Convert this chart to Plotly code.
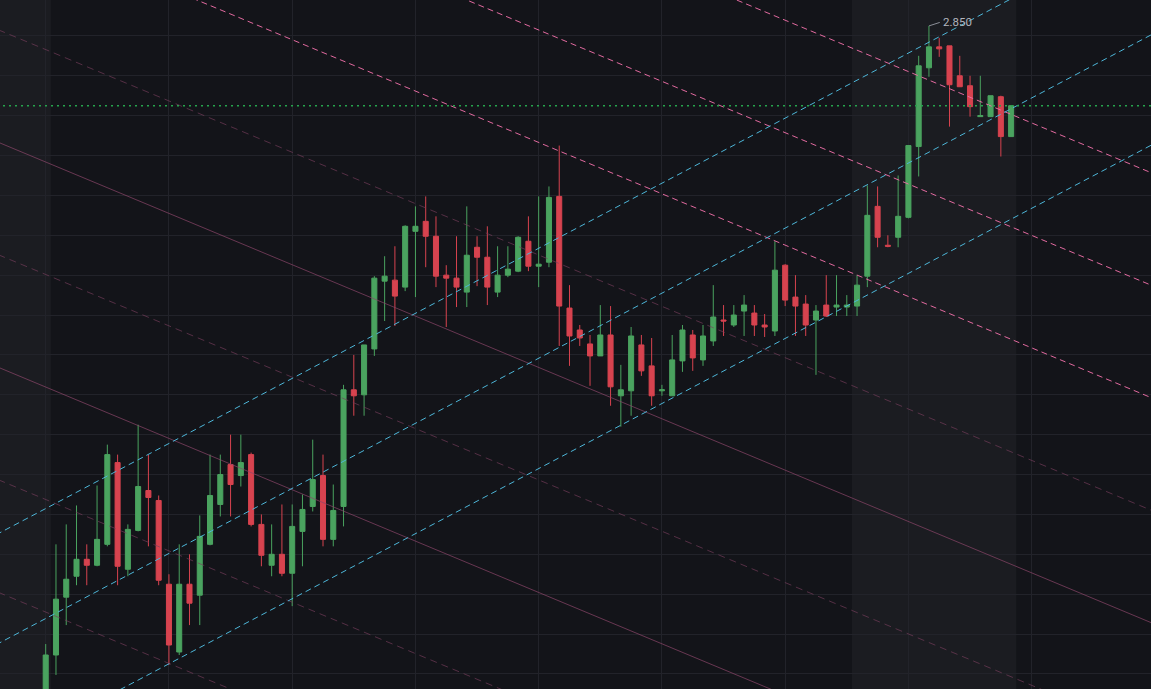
import plotly.graph_objects as go

# ---------------- data ----------------
bar_index = list(range(95))
opens = [2.179, 2.219, 2.277, 2.298, 2.315, 2.309, 2.330, 2.412, 2.305, 2.344,
         2.384, 2.374, 2.290, 2.222, 2.290, 2.279, 2.330, 2.370, 2.410, 2.399,
         2.420, 2.350, 2.309, 2.320, 2.301, 2.343, 2.368, 2.399, 2.335, 2.368,
         2.485, 2.480, 2.526, 2.594, 2.595, 2.588, 2.644, 2.654, 2.639, 2.600,
         2.597, 2.583, 2.628, 2.618, 2.583, 2.600, 2.604, 2.634, 2.609, 2.613,
         2.679, 2.567, 2.545, 2.531, 2.519, 2.540, 2.479, 2.484, 2.530, 2.509,
         2.484, 2.479, 2.514, 2.540, 2.515, 2.534, 2.555, 2.550, 2.564, 2.562,
         2.550, 2.544, 2.610, 2.578, 2.571, 2.555, 2.570, 2.568, 2.568, 2.569,
         2.599, 2.669, 2.630, 2.638, 2.658, 2.729, 2.808, 2.829, 2.830, 2.800,
         2.790, 2.759, 2.759, 2.779, 2.739]
highs = [2.230, 2.330, 2.350, 2.369, 2.330, 2.389, 2.430, 2.420, 2.350, 2.450,
         2.420, 2.379, 2.300, 2.330, 2.320, 2.359, 2.420, 2.420, 2.440, 2.440,
         2.422, 2.360, 2.350, 2.370, 2.370, 2.380, 2.435, 2.420, 2.390, 2.490,
         2.520, 2.530, 2.599, 2.619, 2.629, 2.650, 2.669, 2.679, 2.659, 2.610,
         2.639, 2.669, 2.639, 2.649, 2.629, 2.629, 2.639, 2.659, 2.679, 2.689,
         2.730, 2.590, 2.550, 2.540, 2.570, 2.569, 2.510, 2.548, 2.540, 2.537,
         2.490, 2.540, 2.550, 2.545, 2.550, 2.590, 2.570, 2.570, 2.580, 2.570,
         2.561, 2.634, 2.611, 2.600, 2.580, 2.570, 2.600, 2.600, 2.580, 2.600,
         2.690, 2.689, 2.640, 2.700, 2.730, 2.820, 2.850, 2.838, 2.830, 2.820,
         2.800, 2.800, 2.780, 2.780, 2.770]
lows = [2.164, 2.199, 2.249, 2.289, 2.289, 2.308, 2.328, 2.289, 2.298, 2.343,
        2.328, 2.289, 2.209, 2.219, 2.249, 2.249, 2.329, 2.358, 2.358, 2.388,
        2.348, 2.308, 2.298, 2.298, 2.268, 2.308, 2.363, 2.328, 2.328, 2.348,
        2.459, 2.459, 2.519, 2.554, 2.549, 2.584, 2.578, 2.608, 2.588, 2.548,
        2.568, 2.568, 2.589, 2.570, 2.578, 2.598, 2.603, 2.604, 2.588, 2.608,
        2.529, 2.509, 2.529, 2.489, 2.519, 2.469, 2.448, 2.459, 2.499, 2.469,
        2.479, 2.479, 2.503, 2.504, 2.509, 2.529, 2.539, 2.548, 2.539, 2.539,
        2.538, 2.539, 2.569, 2.539, 2.539, 2.500, 2.558, 2.559, 2.559, 2.559,
        2.588, 2.628, 2.628, 2.628, 2.657, 2.699, 2.799, 2.819, 2.749, 2.789,
        2.759, 2.759, 2.759, 2.719, 2.739]
closes = [2.219, 2.275, 2.295, 2.315, 2.309, 2.335, 2.420, 2.308, 2.345, 2.388,
          2.377, 2.294, 2.229, 2.290, 2.271, 2.338, 2.379, 2.400, 2.390, 2.412,
          2.350, 2.319, 2.320, 2.301, 2.348, 2.365, 2.395, 2.335, 2.364, 2.485,
          2.479, 2.530, 2.597, 2.599, 2.579, 2.649, 2.649, 2.639, 2.599, 2.597,
          2.588, 2.620, 2.618, 2.588, 2.600, 2.606, 2.638, 2.609, 2.611, 2.678,
          2.569, 2.539, 2.537, 2.519, 2.540, 2.488, 2.485, 2.539, 2.504, 2.479,
          2.485, 2.515, 2.545, 2.517, 2.539, 2.558, 2.554, 2.560, 2.570, 2.550,
          2.548, 2.605, 2.575, 2.569, 2.550, 2.564, 2.559, 2.570, 2.570, 2.590,
          2.660, 2.638, 2.629, 2.659, 2.730, 2.810, 2.829, 2.827, 2.791, 2.789,
          2.769, 2.760, 2.780, 2.739, 2.770]

last_price = 2.770
high_label = "2.850"
high_bar = 86
high_value = 2.850

# rising parallel channel (cyan): prices at bar -10 and bar 110
cyan_x = [-10, 110]
cyan_start = [2.3115, 2.2012, 2.0905]
cyan_end = [2.9642, 2.8539, 2.7432]

# falling parallel lines (pink): prices at bar -10 and bar 110
pink_x = [-10, 110]
pink_start = [3.2077, 3.0949, 2.9821, 2.8692, 2.7564, 2.6436, 2.5307, 2.4179, 2.3050]
pink_end = [2.6926, 2.5798, 2.4670, 2.3541, 2.2413, 2.1285, 2.0156, 1.9028, 1.7899]
pink_style = ["bright", "bright", "bright", "dim", "mid", "dim", "mid", "dim", "dim"]

grid_prices = [round(2.20 + 0.04 * k, 2) for k in range(17)]
grid_bars = [0, 12, 24, 36, 48, 60, 72, 84, 96]
session_bands = [(-10, 0.5), (78.5, 94.5)]

# ---------------- figure ----------------
BG = "#131419"
BAND = "#1b1c21"
GRID = "#22232a"
GREEN = "#4aa35f"
RED = "#d7434f"

fig = go.Figure()

fig.add_trace(go.Candlestick(
    x=bar_index, open=opens, high=highs, low=lows, close=closes,
    increasing=dict(line=dict(color=GREEN, width=1), fillcolor=GREEN),
    decreasing=dict(line=dict(color=RED, width=1), fillcolor=RED),
    whiskerwidth=0, showlegend=False, hoverinfo="skip",
))

styles = {
    "bright": dict(color="rgba(236,110,165,0.95)", width=1, dash="6px,4px"),
    "mid": dict(color="rgba(140,70,105,0.7)", width=1, dash="solid"),
    "dim": dict(color="rgba(120,62,92,0.65)", width=1, dash="7px,5px"),
}
for s, e, st in zip(pink_start, pink_end, pink_style):
    fig.add_trace(go.Scatter(x=pink_x, y=[s, e], mode="lines", line=styles[st],
                             showlegend=False, hoverinfo="skip"))

for s, e in zip(cyan_start, cyan_end):
    fig.add_trace(go.Scatter(x=cyan_x, y=[s, e], mode="lines",
                             line=dict(color="#4db6d8", width=1, dash="6px,4px"),
                             showlegend=False, hoverinfo="skip"))

# last price dotted line
fig.add_trace(go.Scatter(x=[-10, 120], y=[last_price, last_price], mode="lines",
                         line=dict(color="#26a34d", width=1.5, dash="2px,4px"),
                         showlegend=False, hoverinfo="skip"))

# high label leader
fig.add_trace(go.Scatter(x=[high_bar, high_bar + 1.05], y=[high_value, high_value + 0.0035],
                         mode="lines", line=dict(color="#8a8d96", width=1),
                         showlegend=False, hoverinfo="skip"))
fig.add_annotation(x=high_bar + 1.2, y=high_value + 0.0035, text=high_label,
                   showarrow=False, xanchor="left", yanchor="middle",
                   font=dict(family="Roboto", size=11.5, color="#b2b5be"))

shapes = []
for x0, x1 in session_bands:
    shapes.append(dict(type="rect", xref="x", yref="paper", x0=x0, x1=x1, y0=0, y1=1,
                       fillcolor=BAND, line=dict(width=0), layer="below"))

fig.update_layout(
    width=1151, height=689,
    margin=dict(l=0, r=0, t=0, b=0),
    paper_bgcolor=BG, plot_bgcolor=BG,
    shapes=shapes,
    showlegend=False,
    xaxis=dict(type="linear", range=[-4.45, 107.62], tickvals=grid_bars,
               showticklabels=False, ticks="", showgrid=True, gridcolor=GRID,
               gridwidth=1, zeroline=False, showline=False,
               rangeslider=dict(visible=False), fixedrange=True),
    yaxis=dict(range=[2.1849, 2.876], tickvals=grid_prices, showticklabels=False,
               ticks="", showgrid=True, gridcolor=GRID, gridwidth=1,
               zeroline=False, showline=False, fixedrange=True),
)

fig.write_html("out.html")
